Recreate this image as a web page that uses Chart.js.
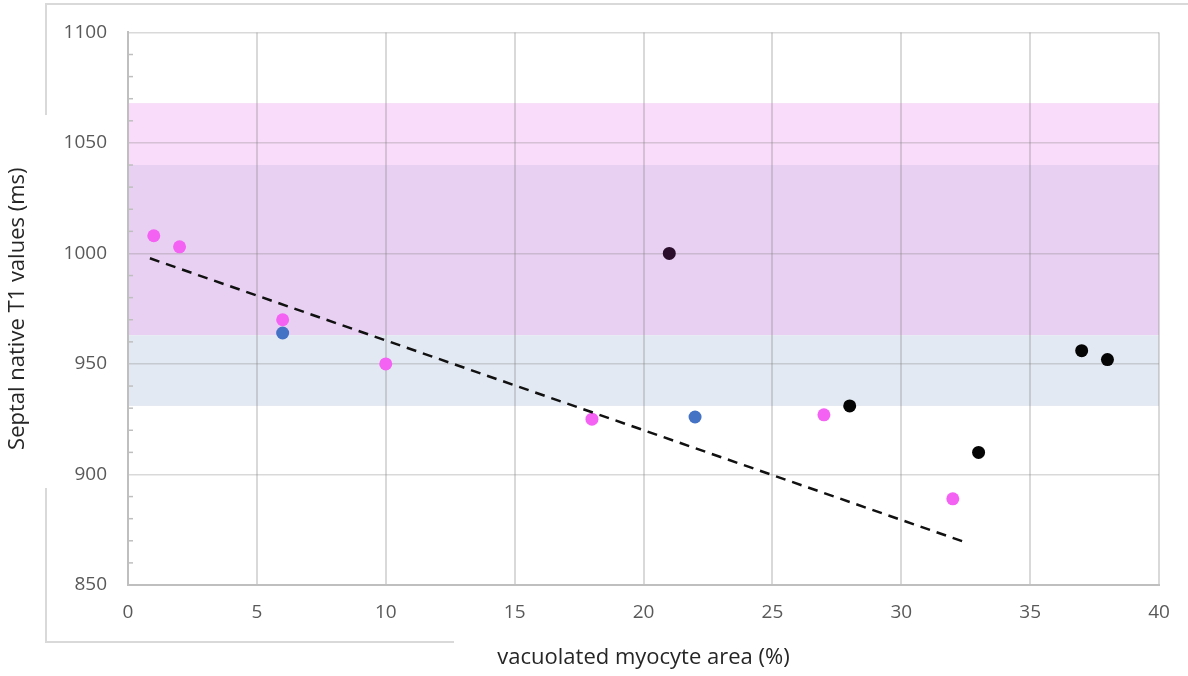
<!DOCTYPE html>
<html lang="en">
<head>
    <meta charset="UTF-8">
    <title>Septal native T1 vs vacuolated myocyte area</title>
    <script src="https://cdn.jsdelivr.net/npm/chart.js@4"></script>
    <style>
        html, body { margin: 0; padding: 0; background: #fff; }
        #wrap { width: 1188px; height: 676px; position: relative; }
    </style>
</head>
<body>
    <div id="wrap"><canvas id="myChart"></canvas></div>
    <script>
        // values
        const pinkPoints = [[1, 1008], [2, 1003], [6, 970], [10, 950], [18, 925], [27, 927], [32, 889]];
        const bluePoints = [[6, 964], [22, 926]];
        const darkPoints = [[21, 1000]];
        const blackPoints = [[28, 931], [33, 910], [37, 956], [38, 952]];
        const trendPoints = [[0.85, 997.8], [32.4, 869.7]];
        // reference ranges (ms), drawn behind the data
        const bandRanges = [[1040, 1068], [963, 1040], [931, 963]];
        const bandColors = ['#f9dcf9', '#e8d0f3', '#e3e9f2'];
        const xTicks = [0, 5, 10, 15, 20, 25, 30, 35, 40];
        const yTicks = [850, 900, 950, 1000, 1050, 1100];

        const toXY = arr => arr.map(p => ({ x: p[0], y: p[1] }));
        const tickFont = { family: 'Open Sans', size: 19 };
        const titleFont = { family: 'Open Sans', size: 22 };

        const bands = {
            id: 'bands',
            beforeDraw(chart) {
                const { ctx, chartArea: a, scales: { y } } = chart;
                ctx.save();
                bandRanges.forEach((r, i) => {
                    const top = y.getPixelForValue(r[1]);
                    const bot = y.getPixelForValue(r[0]);
                    ctx.fillStyle = bandColors[i];
                    ctx.fillRect(a.left, top, a.right - a.left, bot - top);
                });
                ctx.restore();
            },
            afterDraw(chart) {
                const { ctx, chartArea: a, scales: { y } } = chart;
                ctx.save();
                // small inner minor ticks on the y axis
                ctx.strokeStyle = '#bfbfbf';
                ctx.lineWidth = 1.5;
                for (let v = y.min + 10; v < y.max; v += 10) {
                    if (v % 50 === 0) continue;
                    const py = y.getPixelForValue(v);
                    ctx.beginPath();
                    ctx.moveTo(a.left, py);
                    ctx.lineTo(a.left + 5, py);
                    ctx.stroke();
                }
                // figure frame pieces
                ctx.strokeStyle = '#d9d9d9';
                ctx.lineWidth = 2;
                ctx.beginPath();
                ctx.moveTo(46, 115); ctx.lineTo(46, 4); ctx.lineTo(1188, 4);
                ctx.moveTo(46, 488); ctx.lineTo(46, 642); ctx.lineTo(454, 642);
                ctx.stroke();
                ctx.restore();
            }
        };

        const dot = (label, data, color) => ({
            type: 'scatter', label, data: toXY(data),
            backgroundColor: color, borderColor: color,
            pointRadius: 6.5, pointHoverRadius: 6.5, borderWidth: 0
        });

        new Chart(document.getElementById('myChart'), {
            type: 'scatter',
            data: {
                datasets: [
                    {
                        type: 'line', label: 'trend', data: toXY(trendPoints),
                        borderColor: '#111', borderWidth: 2.5, borderDash: [10, 7],
                        pointRadius: 0, fill: false
                    },
                    dot('pink', pinkPoints, '#f462f4'),
                    dot('blue', bluePoints, '#4472c4'),
                    dot('dark', darkPoints, '#2a0e2c'),
                    dot('black', blackPoints, '#050505')
                ]
            },
            options: {
                responsive: true,
                maintainAspectRatio: false,
                animation: false,
                layout: { padding: { left: 0, right: 29, top: 32, bottom: 0 } },
                plugins: { legend: { display: false }, tooltip: { enabled: false } },
                scales: {
                    x: {
                        type: 'linear', min: 0, max: 40,
                        afterBuildTicks: s => { s.ticks = xTicks.map(v => ({ value: v })); },
                        afterFit: s => { s.height = 91; },
                        grid: { color: 'rgba(128,128,128,0.3)', lineWidth: 2, drawTicks: false },
                        border: { color: '#bfbfbf', width: 2 },
                        ticks: { font: tickFont, color: '#595959', padding: 16, maxRotation: 0,
                                 callback: v => String(v) },
                        title: {
                            display: true, text: 'vacuolated myocyte area (%)',
                            font: titleFont, color: '#262626', padding: { top: 0, bottom: 5 }
                        }
                    },
                    y: {
                        type: 'linear', min: 850, max: 1100,
                        afterBuildTicks: s => { s.ticks = yTicks.map(v => ({ value: v })); },
                        afterFit: s => { s.width = 128; },
                        grid: { color: 'rgba(128,128,128,0.3)', lineWidth: 1.5, drawTicks: false },
                        border: { color: '#bfbfbf', width: 2 },
                        ticks: { font: tickFont, color: '#595959', padding: 21,
                                 callback: v => String(v) },
                        title: {
                            display: true, text: 'Septal native T1 values (ms)',
                            font: titleFont, color: '#262626', padding: { top: 5, bottom: 0 }
                        }
                    }
                }
            },
            plugins: [bands]
        });
    </script>
</body>
</html>
